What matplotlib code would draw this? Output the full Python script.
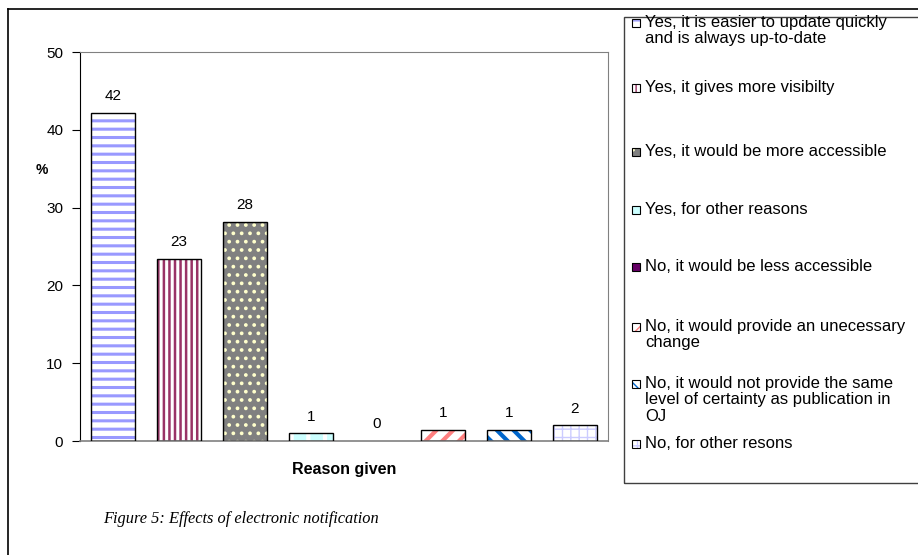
import matplotlib
matplotlib.use('Agg')
import matplotlib.pyplot as plt
from matplotlib.patches import Rectangle
from matplotlib.lines import Line2D

# data
reasons = ['Yes, it is easier to update quickly\nand is always up-to-date',
           'Yes, it gives more visibilty',
           'Yes, it would be more accessible',
           'Yes, for other reasons',
           'No, it would be less accessible',
           'No, it would provide an unecessary\nchange',
           'No, it would not provide the same\nlevel of certainty as publication in\nOJ',
           'No, for other resons']
percent = [42.2, 23.4, 28.2, 1.0, 0.0, 1.4, 1.4, 2.0]

# fill style per bar: face, hatch, hatch colour, hatch width
faces = ['white', 'white', '#808080', '#CCFFFF', '#660066', 'white', 'white', 'white']
hatches = ['--', '|||', '..', '|', '', '//', '\\\\', '++']
hcolors = ['#9999FF', '#993366', '#FFFFCC', 'white', '#660066', '#FF8080', '#0066CC', '#CCCCFF']
hwidths = [2.2, 1.8, 1.5, 3.0, 1.0, 3.0, 3.0, 1.0]

plt.rcParams['font.family'] = ['Liberation Sans', 'DejaVu Sans']

fig = plt.figure(figsize=(9.18, 5.55), dpi=100)
ax = fig.add_axes([0.0871, 0.2054, 0.5752, 0.7009])

x = list(range(len(percent)))
for i in x:
    with plt.rc_context({'hatch.linewidth': hwidths[i]}):
        ax.bar(i, percent[i], width=0.68, color=faces[i], hatch=hatches[i],
               edgecolor=hcolors[i], linewidth=0, zorder=2)
    # zero-height bar gets no outline (nothing drawn in the original)
    ax.bar(i, percent[i], width=0.68, fill=False, edgecolor='black',
           linewidth=1.0 if percent[i] > 0 else 0, zorder=3)
    ax.annotate('%.0f' % percent[i], (i, percent[i]), xytext=(0, 7),
                textcoords='offset points', ha='center', va='bottom', fontsize=11)

ax.set_xlim(-0.5, 7.5)
ax.set_ylim(0, 50)
ax.set_yticks([0, 10, 20, 30, 40, 50])
ax.set_xticks([])
ax.tick_params(axis='y', direction='out', length=6, labelsize=11, pad=6)
ax.spines['left'].set_color('black')
for s in ['top', 'right', 'bottom']:
    ax.spines[s].set_color('#808080')
ax.spines['bottom'].set_linewidth(1.2)
ax.set_ylabel('%', rotation=0, fontsize=10, fontweight='bold', va='center')
ax.yaxis.set_label_coords(-0.072, 0.697)
ax.set_xlabel('Reason given', fontsize=11.5, fontweight='bold', labelpad=15)

# outer frame (top and left edges)
W, H = 918.0, 555.0
fig.add_artist(Line2D([8 / W, 1], [1 - 9 / H, 1 - 9 / H], color='black', lw=1.2,
                      transform=fig.transFigure))
fig.add_artist(Line2D([8 / W, 8 / W], [0, 1 - 9 / H], color='black', lw=1.2,
                      transform=fig.transFigure))

# legend box, drawn by hand to keep Excel-like fixed slots
fig.add_artist(Rectangle((624 / W, 1 - 483 / H), 300 / W, 466 / H, fill=False,
                         edgecolor='#404040', lw=1.0, transform=fig.transFigure))
slot_y = [22, 87, 151, 209, 266, 326, 383, 443]
for i, lab in enumerate(reasons):
    y = slot_y[i]
    with plt.rc_context({'hatch.linewidth': 1.0}):
        fig.add_artist(Rectangle((632 / W, 1 - (y + 5) / H), 8 / W, 8 / H,
                                 facecolor=faces[i], hatch=hatches[i], edgecolor=hcolors[i],
                                 lw=0, transform=fig.transFigure))
    fig.add_artist(Rectangle((632 / W, 1 - (y + 5) / H), 8 / W, 8 / H, fill=False,
                             edgecolor='black', lw=0.8, transform=fig.transFigure))
    fig.text(645 / W, 1 - (y - 7) / H, lab, fontsize=12, va='top', ha='left',
             linespacing=1.12)

fig.text(103 / W, 1 - 519 / H, 'Figure 5: Effects of electronic notification',
         family='Liberation Serif', style='italic', fontsize=11.8, va='center', ha='left')

fig.savefig('out.png', dpi=100)
